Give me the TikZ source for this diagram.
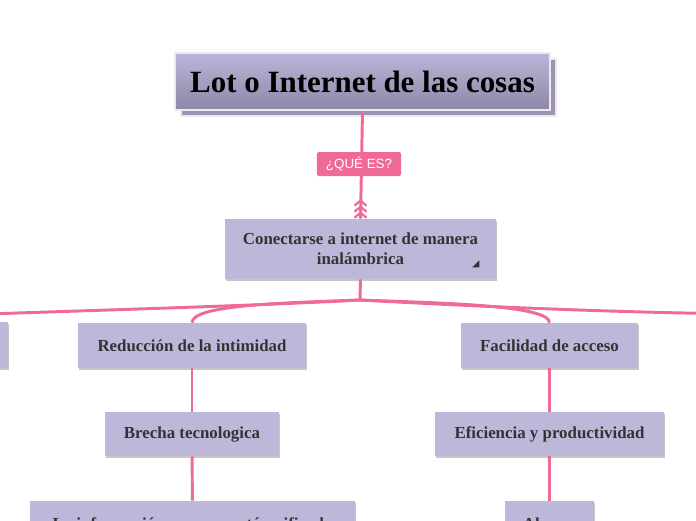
\documentclass[tikz,border=0pt]{standalone}
\usepackage{fontspec}
\setmainfont{Liberation Serif}
\newfontfamily\tagfont{Liberation Sans}
\usetikzlibrary{positioning,calc,shadows}

\definecolor{boxfill}{HTML}{BDB8DA}
\definecolor{linkpink}{HTML}{F06A99}
\definecolor{boxtext}{HTML}{333333}
\definecolor{titletop}{HTML}{BBB5D9}
\definecolor{titlebot}{HTML}{8D88A6}
\definecolor{titleedge}{HTML}{F0E6F0}
\definecolor{titleshade}{HTML}{9A95B0}

\begin{document}
\begin{tikzpicture}[x=0.025cm, y=-0.025cm,
    topic/.style={fill=boxfill, text=boxtext, inner sep=2pt, align=center,
        font=\fontsize{12}{14}\selectfont\bfseries,
        drop shadow={shadow xshift=0.4pt, shadow yshift=-1.2pt, opacity=0.45}},
    link/.style={draw=linkpink, line width=2.1pt},
    tag/.style={fill=linkpink, text=white, rounded corners=1.5pt, inner sep=0pt,
        font=\tagfont\fontsize{9.5}{11}\selectfont}]
    \useasboundingbox (0,0) rectangle (696,520);
    \clip (0,0) rectangle (696,520);

    % Title with its shadow plate
    \node[fill=titleshade, draw=titleedge, line width=1.5pt,
        minimum width=9.375cm, minimum height=1.425cm] (titleback) at (368.5,87.5) {};
    \node[top color=titletop, bottom color=titlebot, draw=titleedge, line width=2pt,
        minimum width=9.375cm, minimum height=1.425cm,
        font=\fontsize{22}{26}\selectfont\bfseries] (title) at (362.5,81.5) {Lot o Internet de las cosas};

    % Main idea
    \node[topic, minimum width=6.775cm, minimum height=1.5cm] (conn) at (360.5,249)
        {Conectarse a internet de manera\\inalámbrica};
    \fill[boxtext] ($(conn.south east)+(-17,-12)$) -- ($(conn.south east)+(-17,-19)$)
        -- ($(conn.south east)+(-24,-12)$) -- cycle;

    % Link title -> main idea, with its label
    \draw[link] (title.south) -- (conn.north);
    \node[tag, minimum width=2.1cm, minimum height=0.6cm] (what) at (359,164) {¿QUÉ ES?};
    \foreach \dy in {-6,-12,-18}
        \draw[linkpink, line width=1.6pt]
            ($(conn.north)+(-6,\dy+5)$) -- ($(conn.north)+(0,\dy)$) -- ($(conn.north)+(6,\dy+5)$);

    % Second level
    \node[topic, minimum width=3.4cm, minimum height=1.15cm] (left) at (-60,345) {};
    \node[topic, minimum width=5.7cm, minimum height=1.125cm] (reduc) at (192,345.5) {Reducción de la intimidad};
    \node[topic, minimum width=4.425cm, minimum height=1.125cm] (facil) at (549.5,345.5) {Facilidad de acceso};
    \coordinate (hub) at (360,300);
    \coordinate (offleft) at (-40,315);
    \coordinate (offright) at (740,314);

    \draw[link] (conn.south) -- (hub);
    \draw[link] (hub) .. controls (250,306) and (100,310) .. (offleft);
    \draw[link] (hub) .. controls (280,303) and (192,305) .. (reduc.north);
    \draw[link] (hub) .. controls (470,306) and (600,312) .. (offright);
    \draw[link] (hub) .. controls (440,303) and (549.5,305) .. (facil.north);

    % Left branch
    \node[topic, minimum width=4.35cm, minimum height=1.1cm] (brecha) at (192,434) {Brecha tecnologica};
    \node[topic, minimum width=8.125cm, minimum height=1.125cm] (info) at (192.5,523.5) {La información en suma está unificada};
    \draw[link] (reduc) -- (brecha);
    \draw[link] (brecha) -- (info);

    % Right branch
    \node[topic, minimum width=5.725cm, minimum height=1.1cm] (efic) at (549.5,434) {Eficiencia y productividad};
    \node[topic, minimum width=2.225cm, minimum height=1.125cm] (ahorro) at (549.5,523.5) {Ahorro};
    \draw[link] (facil) -- (efic);
    \draw[link] (efic) -- (ahorro);
\end{tikzpicture}
\end{document}
